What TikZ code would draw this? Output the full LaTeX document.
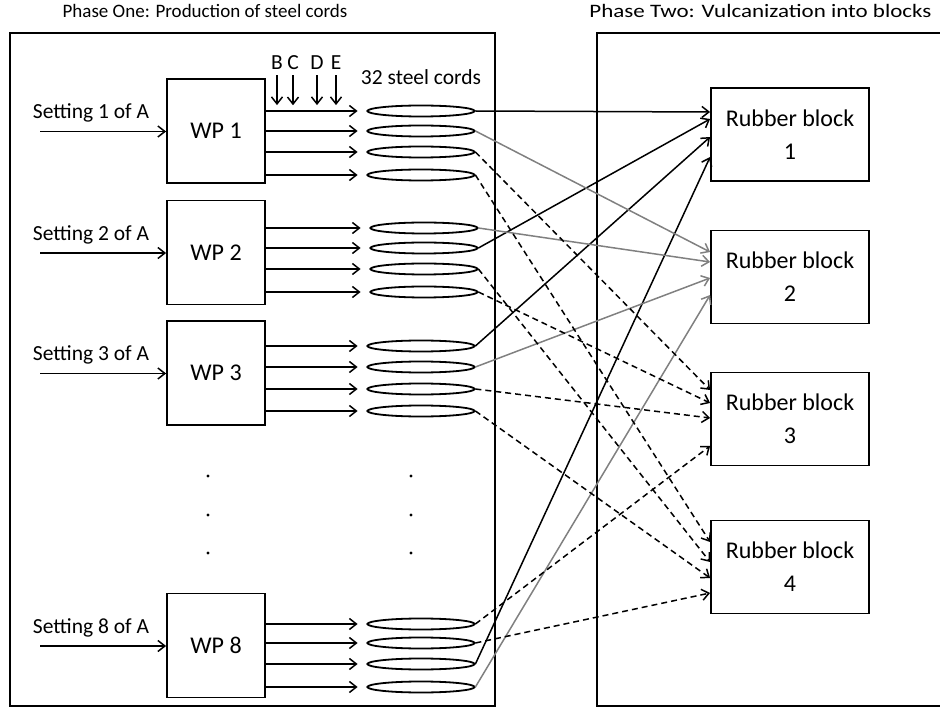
\documentclass[tikz,border=0pt]{standalone}
\usepackage{fontspec}
\setmainfont{Carlito}
\usetikzlibrary{arrows.meta,shapes.geometric,calc}
\definecolor{linegray}{RGB}{128,128,128}
\begin{document}
\begin{tikzpicture}[x=1pt,y=-1pt,
  frame/.style={draw,line width=1.8pt},
  wpbox/.style={draw,line width=1.8pt,minimum width=98pt,minimum height=104pt,inner sep=0pt,font=\fontsize{24}{29}\selectfont},
  rbbox/.style={draw,line width=1.8pt,minimum width=158pt,minimum height=93pt,inner sep=0pt,align=center,font=\fontsize{24}{33}\selectfont},
  cord/.style={draw,ellipse,line width=1.8pt,minimum width=107pt,minimum height=11pt,inner sep=0pt},
  lbl/.style={font=\fontsize{21.5}{26}\selectfont,inner sep=1pt},
  arr/.style={line width=1.5pt,-{Straight Barb[length=7pt,width=11pt]}},
  blk/.style={arr,black},
  gry/.style={arr,linegray},
  dsh/.style={arr,black,dash pattern=on 6pt off 4pt},
]
\useasboundingbox (0,0) rectangle (940,711);
\clip (0,0) rectangle (940,711);

% titles
\node[lbl,font=\fontsize{19}{23}\selectfont] (t1) at (205,11) {Phase One: Production of steel cords};
\node[lbl,font=\fontsize{19}{23}\selectfont,anchor=west,xscale=1.21] (t2) at (588,11) {Phase Two: Vulcanization into blocks};

% phase frames
\draw[frame] (10,33) rectangle (495,706);
\draw[frame] (597,33) rectangle (960,706);

% work packages, settings and cords
\foreach \n/\cy/\ya/\yb/\yc/\yd/\cx in {1/131/111/131/152/175/421, 2/252.5/228/248/269/292/424, 3/373/346/367/389/411/421, 8/645.5/624/643/664/687/421} {
  \node[wpbox] (wp\n) at (216,\cy) {WP \n};
  \coordinate (s\n) at (40,{\cy+0.5});
  \node[lbl] (set\n) at (91,{\cy-18}) {Setting \n\ of A};
  \draw[blk] (s\n) -- (wp\n.west |- s\n);
  \foreach \k/\yy in {1/\ya,2/\yb,3/\yc,4/\yd} {
    \node[cord] (c\n\k) at (\cx,\yy) {};
    \draw[blk] (wp\n.east |- c\n\k) -- ([xshift=-9pt]c\n\k.west);
  }
}

% B C D E inputs
\foreach \L/\x in {B/277,C/293,D/317,E/336} {
  \node[lbl] (l\L) at (\x,63) {\L};
  \draw[blk] ([yshift=-4pt]l\L.south) -- ++(0,30);
}
\node[lbl] (sc) at (421,77) {32 steel cords};

% ellipsis dots
\foreach \yy in {476,515,553} {
  \fill (208,\yy) circle[radius=1.7pt];
  \fill (411,\yy) circle[radius=1.7pt];
}

% rubber blocks
\node[rbbox] (rb1) at (790,134.5) {Rubber block\\1};
\node[rbbox] (rb2) at (790,277) {Rubber block\\2};
\node[rbbox] (rb3) at (790,419) {Rubber block\\3};
\node[rbbox] (rb4) at (790,567) {Rubber block\\4};

% connections cords -> blocks
\foreach \s/\t/\sh/\st in {
  c11/rb1/22.5/blk, c22/rb1/15.5/blk, c31/rb1/-2.5/blk, c83/rb1/-22.5/blk,
  c12/rb2/25/gry, c21/rb2/15/gry, c32/rb2/-1/gry, c84/rb2/-18/gry,
  c13/rb3/29/dsh, c24/rb3/16/dsh, c33/rb3/1/dsh, c81/rb3/-27/dsh,
  c14/rb4/25/dsh, c23/rb4/5/dsh, c34/rb4/-11/dsh, c82/rb4/-26/dsh} {
  \draw[\st] (\s.east) -- ([yshift=\sh pt]\t.west);
}
\end{tikzpicture}
\end{document}
